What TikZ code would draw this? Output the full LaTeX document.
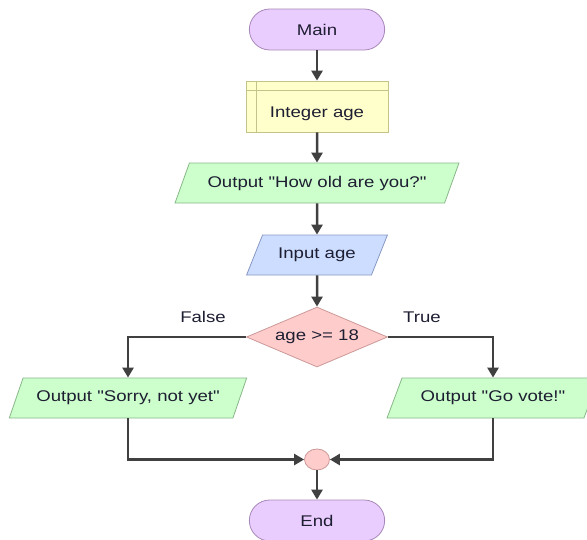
\documentclass[tikz,border=0pt]{standalone}
\usepackage{fontspec}
\setmainfont{Liberation Sans}[FakeStretch=1.2, Ligatures=TeXOff]
\usetikzlibrary{shapes.geometric,shapes.misc,arrows.meta,calc}
\definecolor{termfill}{HTML}{EACDFF}
\definecolor{termdraw}{HTML}{A888B8}
\definecolor{declfill}{HTML}{FFFFCC}
\definecolor{decldraw}{HTML}{C4C48A}
\definecolor{outfill}{HTML}{CCFFCC}
\definecolor{outdraw}{HTML}{88B888}
\definecolor{infill}{HTML}{CCDDFF}
\definecolor{indraw}{HTML}{8899C4}
\definecolor{decfill}{HTML}{FFCCCC}
\definecolor{decdraw}{HTML}{CC9999}
\definecolor{linecol}{HTML}{404040}
\definecolor{txtcol}{HTML}{1E1E32}
\tikzset{
  every node/.style={font=\fontsize{15.5}{18}\selectfont, text=txtcol},
  term/.style={rounded rectangle, minimum width=142pt, minimum height=41pt, fill=termfill, draw=termdraw, line width=0.8pt},
  declbox/.style={rectangle, minimum width=142pt, minimum height=51pt, fill=declfill, draw=decldraw, line width=0.8pt},
  iobox/.style={trapezium, trapezium stretches=true, trapezium left angle=59, trapezium right angle=121, minimum height=40pt, line width=0.8pt},
  outbox/.style={iobox, fill=outfill, draw=outdraw},
  inbox/.style={iobox, fill=infill, draw=indraw},
  decbox/.style={diamond, aspect=2.35, minimum width=141pt, minimum height=60pt, inner sep=0pt, fill=decfill, draw=decdraw, line width=0.8pt},
  joinpt/.style={ellipse, minimum width=25pt, minimum height=21pt, inner sep=0pt, fill=decfill, draw=decdraw, line width=0.8pt},
  flow/.style={draw=linecol, line width=2.5pt, -{Triangle[width=11pt,length=10pt]}},
  lbl/.style={inner sep=0pt}
}
\begin{document}
\begin{tikzpicture}[x=1pt,y=-1pt]
\clip (0,0) rectangle (587,539);
\fill[white] (0,0) rectangle (587,539);
\node[term] (main) at (317,29.5) {Main};
\node[declbox] (decl) at (317,106.5) {};
\draw[decldraw, line width=0.8pt] ([xshift=11pt]decl.north west) -- ([xshift=11pt]decl.south west);
\draw[decldraw, line width=0.8pt] ([yshift=-10pt]decl.north west) -- ([yshift=-10pt]decl.north east);
\node[lbl] (decltext) at ([yshift=-7pt]decl.center) {Integer age};
\node[outbox, minimum width=284pt] (out1) at (317,183) {Output "How old are you?"};
\node[inbox, minimum width=141pt] (in1) at (317,255) {Input age};
\node[decbox] (dec) at (317,337) {age >= 18};
\node[outbox, minimum width=238pt] (outF) at (128,398) {Output "Sorry, not yet"};
\node[outbox, minimum width=212pt] (outT) at (493,398) {Output "Go vote!"};
\node[joinpt] (join) at (317,459.5) {};
\node[term] (endn) at (317,520.5) {End};
\node[lbl] (lf) at (203,317) {False};
\node[lbl] (lt) at (422,317) {True};
\draw[flow] (main.south) -- (decl.north);
\draw[flow] (decl.south) -- (out1.north);
\draw[flow] (out1.south) -- (in1.north);
\draw[flow] (in1.south) -- (dec.north);
\draw[flow] (dec.west) -| (outF.north);
\draw[flow] (dec.east) -| (outT.north);
\draw[flow] (outF.south) |- (join.west);
\draw[flow] (outT.south) |- (join.east);
\draw[flow] (join.south) -- (endn.north);
\end{tikzpicture}
\end{document}
